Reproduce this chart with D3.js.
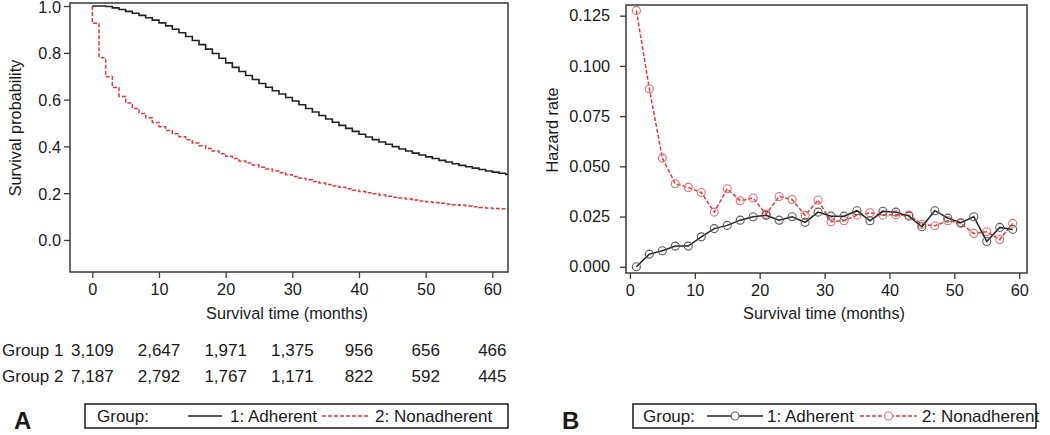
<!DOCTYPE html>
<html><head><meta charset="utf-8">
<script src="https://cdn.jsdelivr.net/npm/d3@7"></script>
<style>
html,body{margin:0;padding:0;background:#fff;}
svg{display:block;font-family:"Liberation Sans",Arial,sans-serif;}
</style></head>
<body>
<svg id="chart" width="1050" height="435"></svg>
<script>
// ---------- DATA ----------
const survivalMonths = d3.range(0, 63); // step start months 0..62
const survivalAdherent = [1.000,1.000,0.998,0.992,0.985,0.977,0.969,0.960,0.950,0.940,
  0.928,0.915,0.901,0.886,0.870,0.853,0.835,0.816,0.797,0.777,
  0.757,0.738,0.720,0.703,0.686,0.669,0.653,0.638,0.624,0.609,
  0.594,0.578,0.562,0.547,0.532,0.517,0.503,0.490,0.477,0.464,
  0.452,0.440,0.429,0.419,0.409,0.399,0.389,0.380,0.371,0.363,
  0.355,0.348,0.340,0.333,0.326,0.319,0.313,0.307,0.301,0.295,
  0.290,0.285,0.280];
const survivalNonadherent = [0.926,0.779,0.698,0.652,0.613,0.586,0.562,0.541,0.522,0.502,
  0.484,0.468,0.454,0.441,0.428,0.415,0.403,0.391,0.380,0.369,
  0.358,0.348,0.338,0.329,0.320,0.311,0.303,0.295,0.287,0.279,
  0.271,0.264,0.257,0.250,0.243,0.237,0.231,0.225,0.219,0.213,
  0.207,0.202,0.197,0.192,0.187,0.183,0.179,0.175,0.171,0.167,
  0.163,0.160,0.157,0.154,0.151,0.148,0.145,0.142,0.139,0.137,
  0.135,0.133,0.131];
const survivalEnd = 62.35;

const hazardMonths = [1,3,5,7,9,11,13,15,17,19,21,23,25,27,29,31,33,35,37,39,41,43,45,47,49,51,53,55,57,59];
const hazardAdherent = [0.0000,0.0063,0.0080,0.0103,0.0103,0.0149,0.0190,0.0206,0.0232,0.0249,
  0.0256,0.0232,0.0249,0.0221,0.0272,0.0252,0.0252,0.0279,0.0229,0.0276,
  0.0272,0.0252,0.0199,0.0279,0.0242,0.0219,0.0249,0.0126,0.0196,0.0186];
const hazardNonadherent = [0.1275,0.0886,0.0541,0.0413,0.0395,0.0370,0.0272,0.0388,0.0329,0.0342,
  0.0262,0.0350,0.0335,0.0256,0.0332,0.0224,0.0229,0.0257,0.0269,0.0257,
  0.0259,0.0257,0.0212,0.0204,0.0229,0.0216,0.0166,0.0174,0.0136,0.0216];

const riskTimes = [0,10,20,30,40,50,60];
const riskGroup1 = ["3,109","2,647","1,971","1,375","956","656","466"];
const riskGroup2 = ["7,187","2,792","1,767","1,171","822","592","445"];
const riskLabels = ["Group 1","Group 2"];

const survTicksX = [0,10,20,30,40,50,60];
const survTicksY = [0.0,0.2,0.4,0.6,0.8,1.0];
const hazTicksX = [0,10,20,30,40,50,60];
const hazTicksY = [0.000,0.025,0.050,0.075,0.100,0.125];

const groupNames = ["1: Adherent","2: Nonadherent"];
const colors = {g1:"#222222", g2:"#e8363c", g1m:"#5a5a5a", g2m:"#ee6a6e"};

// ---------- DRAW ----------
const svg = d3.select("#chart");
const FS = 16.3;

function frame(g, x0, y0, x1, y1){
  g.append("rect").attr("x",x0).attr("y",y0).attr("width",x1-x0).attr("height",y1-y0)
   .attr("fill","none").attr("stroke","#3a3a3a").attr("stroke-width",1.5);
}
function styleAxis(ax){
  ax.select(".domain").remove();
  ax.selectAll(".tick line").attr("stroke","#3a3a3a").attr("stroke-width",1.3);
  ax.selectAll(".tick text").attr("fill","#1a1a1a").style("font-size",FS+"px")
    .style("font-family","'Liberation Sans',Arial,sans-serif");
}

// ===== Panel A =====
const A = {x0:70, x1:508, y0:3, y1:272};
const xA = d3.scaleLinear().domain([-3.35, 62.35]).range([A.x0, A.x1]);
const yA = d3.scaleLinear().domain([-0.137, 1.013]).range([A.y1, A.y0]);
const gA = svg.append("g");

const axA_x = gA.append("g").attr("transform",`translate(0,${A.y1})`)
  .call(d3.axisBottom(xA).tickValues(survTicksX).tickSize(6).tickPadding(5).tickFormat(d3.format("d")));
styleAxis(axA_x);
const axA_y = gA.append("g").attr("transform",`translate(${A.x0},0)`)
  .call(d3.axisLeft(yA).tickValues(survTicksY).tickSize(6).tickPadding(3).tickFormat(d3.format(".1f")));
styleAxis(axA_y);
axA_y.selectAll(".tick text").attr("dy",d=> d===1 ? "0.42em" : "0.36em");

function stepPts(vals){
  const pts = [[0,1.0]];
  vals.forEach((v,i)=>{ pts.push([survivalMonths[i], v]); });
  pts.push([survivalEnd, vals[vals.length-1]]);
  return pts;
}
const lineA = d3.line().x(d=>xA(d[0])).y(d=>yA(d[1])).curve(d3.curveStepAfter);
gA.append("path").datum(stepPts(survivalAdherent)).attr("d",lineA)
  .attr("fill","none").attr("stroke",colors.g1).attr("stroke-width",1.6);
gA.append("path").datum(stepPts(survivalNonadherent)).attr("d",lineA)
  .attr("fill","none").attr("stroke",colors.g2).attr("stroke-width",1.5).attr("stroke-dasharray","4,2");
frame(gA, A.x0, A.y0, A.x1, A.y1);

gA.append("text").attr("x",287).attr("y",319)
  .attr("text-anchor","middle").style("font-size",FS+"px").attr("fill","#1a1a1a").text("Survival time (months)");
gA.append("text").attr("transform","translate(21,128) rotate(-90)")
  .attr("text-anchor","middle").style("font-size",FS+"px").attr("fill","#1a1a1a").text("Survival probability");

// risk table
const riskRows = [riskGroup1, riskGroup2];
riskRows.forEach((row,ri)=>{
  const yy = 356 + ri*26;
  gA.append("text").attr("x",2).attr("y",yy).style("font-size","17px").attr("fill","#1a1a1a").text(riskLabels[ri]);
  gA.selectAll(null).data(row).enter().append("text")
    .attr("x",(d,i)=>xA(riskTimes[i])).attr("y",yy).attr("text-anchor","middle")
    .style("font-size","17px").attr("fill","#1a1a1a").text(d=>d);
});

// ===== Panel B =====
const B = {x0:626, x1:1027, y0:5, y1:273};
const xB = d3.scaleLinear().domain([-0.6, 61.2]).range([B.x0, B.x1]);
const yB = d3.scaleLinear().domain([-0.0031, 0.1303]).range([B.y1, B.y0]);
const gB = svg.append("g");
const axB_x = gB.append("g").attr("transform",`translate(0,${B.y1})`)
  .call(d3.axisBottom(xB).tickValues(hazTicksX).tickSize(6).tickPadding(5).tickFormat(d3.format("d")));
styleAxis(axB_x);
const axB_y = gB.append("g").attr("transform",`translate(${B.x0},0)`)
  .call(d3.axisLeft(yB).tickValues(hazTicksY).tickSize(6).tickPadding(10).tickFormat(d3.format(".3f")));
styleAxis(axB_y);

const hz1 = hazardMonths.map((m,i)=>[m,hazardAdherent[i]]);
const hz2 = hazardMonths.map((m,i)=>[m,hazardNonadherent[i]]);
const lineB = d3.line().x(d=>xB(d[0])).y(d=>yB(d[1]));
gB.append("path").datum(hz2).attr("d",lineB).attr("fill","none")
  .attr("stroke",colors.g2).attr("stroke-width",1.5).attr("stroke-dasharray","4,2");
gB.selectAll(".m2").data(hz2).enter().append("circle").attr("class","m2")
  .attr("cx",d=>xB(d[0])).attr("cy",d=>yB(d[1])).attr("r",4)
  .attr("fill","none").attr("stroke",colors.g2m).attr("stroke-width",1.1);
gB.append("path").datum(hz1).attr("d",lineB).attr("fill","none")
  .attr("stroke",colors.g1).attr("stroke-width",1.5);
gB.selectAll(".m1").data(hz1).enter().append("circle").attr("class","m1")
  .attr("cx",d=>xB(d[0])).attr("cy",d=>yB(d[1])).attr("r",4)
  .attr("fill","none").attr("stroke",colors.g1m).attr("stroke-width",1.1);
frame(gB, B.x0, B.y0, B.x1, B.y1);

gB.append("text").attr("x",824).attr("y",319).attr("text-anchor","middle")
  .style("font-size",FS+"px").attr("fill","#1a1a1a").text("Survival time (months)");
gB.append("text").attr("transform","translate(558,130) rotate(-90)").attr("text-anchor","middle")
  .style("font-size",FS+"px").attr("fill","#1a1a1a").text("Hazard rate");

// ===== Legends & panel letters =====
function legend(opts){
  const g = svg.append("g");
  g.append("rect").attr("x",opts.x0).attr("y",404).attr("width",opts.x1-opts.x0).attr("height",24)
    .attr("fill","none").attr("stroke","#1a1a1a").attr("stroke-width",1.5);
  const ty = 422, ly = 416;
  g.append("text").attr("x",opts.gx).attr("y",ty).style("font-size","17px").attr("fill","#1a1a1a").text("Group:");
  opts.items.forEach((it,i)=>{
    g.append("line").attr("x1",it.l0).attr("x2",it.l1).attr("y1",ly).attr("y2",ly)
      .attr("stroke",i===0?colors.g1:colors.g2).attr("stroke-width",1.5)
      .attr("stroke-dasharray",i===0?null:"4,2");
    if(opts.marker){
      g.append("circle").attr("cx",(it.l0+it.l1)/2).attr("cy",ly).attr("r",4)
        .attr("fill","#fff").attr("stroke",i===0?colors.g1m:colors.g2m).attr("stroke-width",1.1);
    }
    g.append("text").attr("x",it.tx).attr("y",ty).style("font-size","17px").attr("fill","#1a1a1a").text(groupNames[i]);
  });
}
legend({x0:85,x1:508,gx:97,marker:false,items:[{l0:188,l1:222,tx:230},{l0:322,l1:370,tx:375}]});
legend({x0:633,x1:1036,gx:643,marker:true,items:[{l0:707,l1:763,tx:767},{l0:860,l1:917,tx:922}]});

svg.append("text").attr("x",14).attr("y",429).style("font-size","24px").style("font-weight","bold").attr("fill","#1a1a1a").text("A");
svg.append("text").attr("x",562).attr("y",429).style("font-size","24px").style("font-weight","bold").attr("fill","#1a1a1a").text("B");
</script>
</body></html>
